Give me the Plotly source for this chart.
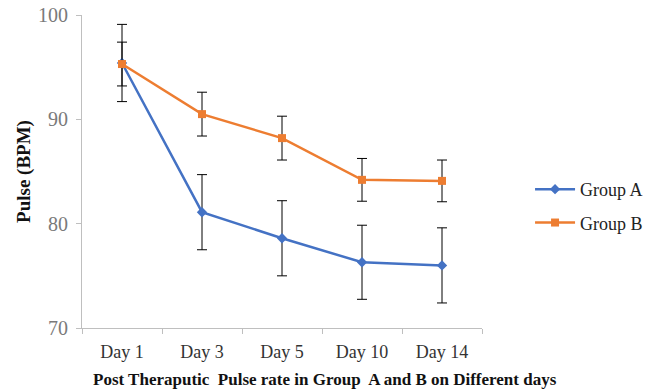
import plotly.graph_objects as go

days = ["Day 1", "Day 3", "Day 5", "Day 10", "Day 14"]
group_a = [95.4, 81.1, 78.6, 76.3, 76.0]
group_a_err = [3.7, 3.6, 3.6, 3.55, 3.6]
group_b = [95.3, 90.5, 88.2, 84.2, 84.1]
group_b_err = [2.1, 2.1, 2.1, 2.05, 2.0]
y_ticks = [70, 80, 90, 100]
x_title = "<b>Post Theraputic  Pulse rate in Group  A and B on Different days</b>"

font_family = "Liberation Serif"

fig = go.Figure()
fig.add_trace(go.Scatter(
    x=days, y=group_a, name="Group A", mode="lines+markers", legendgroup="a",
    line=dict(color="#4472C4", width=2.5),
    marker=dict(symbol="diamond", size=8, color="#4472C4"),
    error_y=dict(type="data", array=group_a_err, visible=True,
                 color="#000000", thickness=1, width=5),
))
fig.add_trace(go.Scatter(
    x=days, y=group_b, name="Group B", mode="lines+markers", legendgroup="b",
    line=dict(color="#ED7D31", width=2.5),
    marker=dict(symbol="square", size=8, color="#ED7D31"),
    error_y=dict(type="data", array=group_b_err, visible=True,
                 color="#000000", thickness=1, width=5),
))

fig.add_annotation(
    text=x_title, xref="paper", yref="paper", x=0.6075, y=-0.166,
    xanchor="center", yanchor="middle", showarrow=False,
    font=dict(family=font_family, size=17, color="#111111"),
)

fig.update_layout(
    width=656, height=391,
    margin=dict(l=82, r=174, t=15, b=63, autoexpand=False),
    paper_bgcolor="white", plot_bgcolor="white",
    font=dict(family=font_family, size=17, color="#404040"),
    legend=dict(x=0.808, y=0.39, xref="container", xanchor="left", yanchor="middle",
                font=dict(family=font_family, size=18, color="#222222"),
                tracegroupgap=7, itemwidth=40, bgcolor="rgba(0,0,0,0)"),
    xaxis=dict(
        type="category", showgrid=False, showline=True, automargin=False,
        linecolor="#BFBFBF", linewidth=1,
        ticks="outside", ticklen=5, tickcolor="#BFBFBF", tickson="boundaries",
        tickfont=dict(family=font_family, size=18, color="#333333"),
        ticklabelstandoff=7,
        range=[-0.5, 4.5],
    ),
    yaxis=dict(
        range=[70, 100], tickvals=y_ticks, showgrid=False, showline=True, automargin=False,
        linecolor="#BFBFBF", linewidth=1,
        ticks="outside", ticklen=5, tickcolor="#BFBFBF",
        tickfont=dict(family=font_family, size=20, color="#7A7A7A"),
        ticklabelstandoff=4,
        title=dict(text="<b>Pulse (BPM)</b>",
                   font=dict(family=font_family, size=19, color="#111111"), standoff=2),
        zeroline=False,
    ),
)

fig.write_html("out.html")
